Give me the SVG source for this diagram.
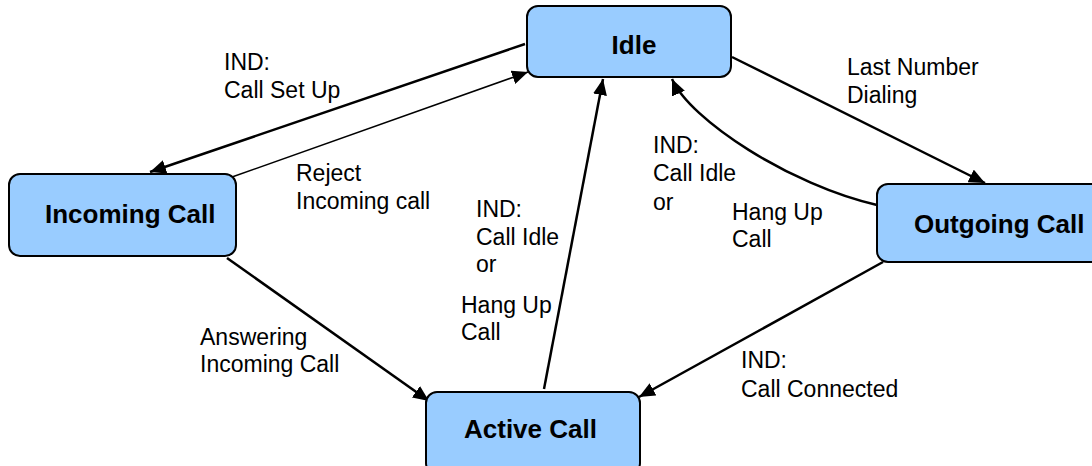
<svg xmlns="http://www.w3.org/2000/svg" width="1092" height="466" viewBox="0 0 1092 466">
<style>
.node{fill:#99CCFF;stroke:#000;stroke-width:2}
.nt{font-family:"Liberation Sans",Arial,sans-serif;font-weight:bold;font-size:26px;fill:#000}
.lb{font-family:"Liberation Sans",Arial,sans-serif;font-size:23px;fill:#000}
.c{fill:none;stroke:#000;stroke-width:2.5}
.thin{stroke-width:1.5}
</style>
<defs>
<marker id="ah" markerUnits="userSpaceOnUse" markerWidth="16" markerHeight="14" refX="16" refY="7" orient="auto">
<path d="M0,0 L16,7 L0,14 z" fill="#000"/>
</marker>
</defs>
<rect width="1092" height="466" fill="#fff"/>
<g id="connectors">
<line class="c" x1="525" y1="44" x2="150" y2="172" marker-end="url(#ah)"/>
<line class="c thin" x1="232" y1="177" x2="528" y2="72" marker-end="url(#ah)"/>
<line class="c" x1="732" y1="57" x2="985" y2="183" marker-end="url(#ah)"/>
<path class="c" d="M877,205 C790,185 690,120 672,79" marker-end="url(#ah)"/>
<line class="c" x1="227" y1="258" x2="429" y2="401" marker-end="url(#ah)"/>
<line class="c" x1="544" y1="389" x2="603" y2="79" marker-end="url(#ah)"/>
<line class="c" x1="883" y1="262" x2="639" y2="397" marker-end="url(#ah)"/>
</g>
<g id="idle">
<rect class="node" x="527" y="6" width="204" height="71" rx="11"/>
<text class="nt" x="634" y="54" text-anchor="middle">Idle</text>
</g>
<g id="incoming">
<rect class="node" x="9" y="174" width="227" height="82" rx="11"/>
<text class="nt" x="45" y="223">Incoming Call</text>
</g>
<g id="outgoing">
<rect class="node" x="877" y="184" width="250" height="78" rx="11"/>
<text class="nt" x="914" y="233">Outgoing Call</text>
</g>
<g id="active">
<rect class="node" x="426" y="392" width="214" height="82" rx="11"/>
<text class="nt" x="464" y="438">Active Call</text>
</g>
<g id="labels">
<text class="lb" x="224" y="70">IND:</text>
<text class="lb" x="224" y="98">Call Set Up</text>
<text class="lb" x="296" y="181">Reject</text>
<text class="lb" x="296" y="209">Incoming call</text>
<text class="lb" x="847" y="75">Last Number</text>
<text class="lb" x="847" y="103">Dialing</text>
<text class="lb" x="653" y="153">IND:</text>
<text class="lb" x="653" y="181">Call Idle</text>
<text class="lb" x="653" y="210">or</text>
<text class="lb" x="732" y="220">Hang Up</text>
<text class="lb" x="732" y="247">Call</text>
<text class="lb" x="476" y="217">IND:</text>
<text class="lb" x="476" y="245">Call Idle</text>
<text class="lb" x="476" y="272">or</text>
<text class="lb" x="461" y="313">Hang Up</text>
<text class="lb" x="461" y="340">Call</text>
<text class="lb" x="200" y="345">Answering</text>
<text class="lb" x="200" y="372">Incoming Call</text>
<text class="lb" x="741" y="368">IND:</text>
<text class="lb" x="741" y="397">Call Connected</text>
</g>
</svg>
